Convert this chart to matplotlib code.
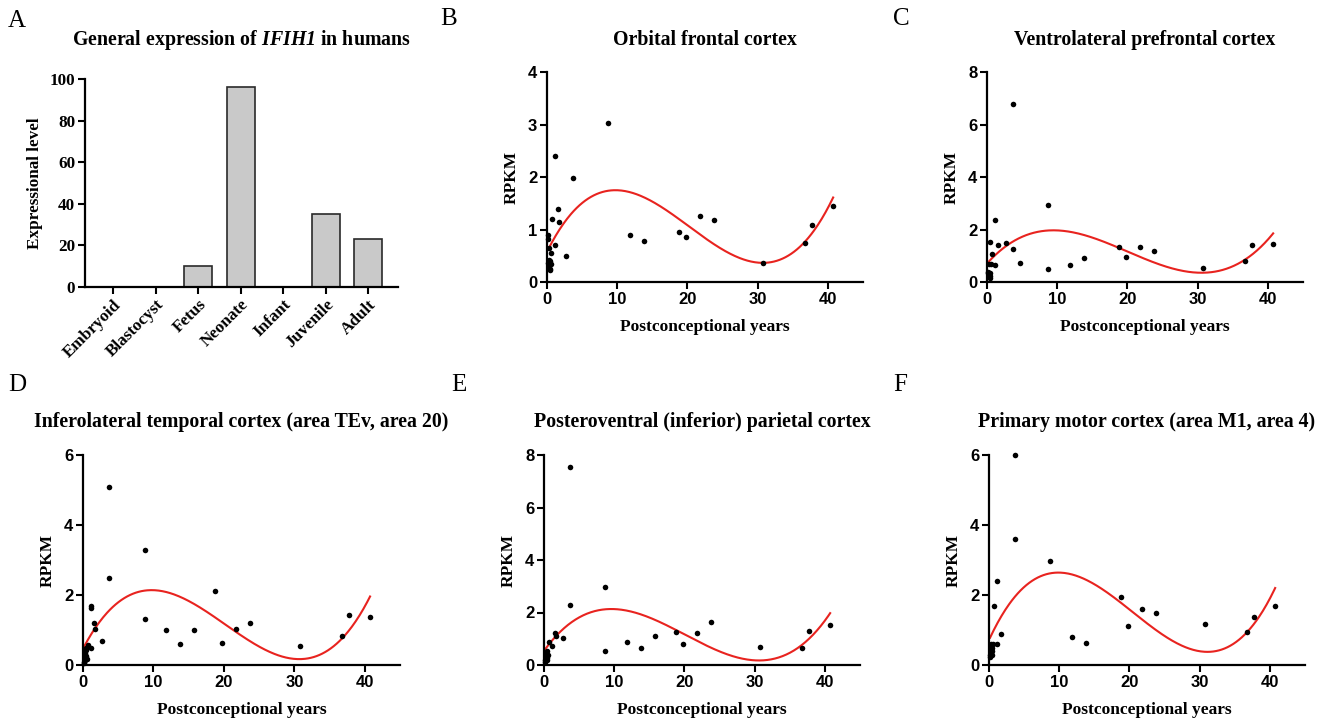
import numpy as np
import matplotlib
matplotlib.use('Agg')
import matplotlib.pyplot as plt

# panel A: general expression
stages = ['Embryoid', 'Blastocyst', 'Fetus', 'Neonate', 'Infant', 'Juvenile', 'Adult']
stage_level = [0, 0, 10, 96, 0, 35, 23]

# panels B-F: RPKM vs postconceptional years (BrainSpan ages)
b_years = [0.154, 0.154, 0.173, 0.231, 0.25, 0.308, 0.327, 0.365, 0.404, 0.46, 0.5, 0.5,
           0.71, 1.08, 1.08, 1.58, 1.75, 2.75, 3.75, 8.75, 11.75, 13.75, 18.75, 19.75,
           21.75, 23.75, 30.75, 36.75, 37.75, 40.75]
b_rpkm = [0.89, 0.36, 0.82, 0.65, 0.42, 0.30, 0.38, 0.25, 0.22, 0.40, 0.34, 0.55,
          1.20, 2.40, 0.71, 1.40, 1.15, 0.50, 1.99, 3.03, 0.89, 0.78, 0.96, 0.85,
          1.25, 1.19, 0.37, 0.74, 1.09, 1.45]

c_years = [0.154, 0.173, 0.231, 0.25, 0.308, 0.327, 0.365, 0.404, 0.46, 0.5, 0.365,
           0.71, 1.08, 1.08, 1.58, 2.75, 3.75, 3.75, 4.75, 8.75, 8.75, 11.75, 13.75,
           18.75, 19.75, 21.75, 23.75, 30.75, 36.75, 37.75, 40.75]
c_rpkm = [0.40, 0.33, 0.25, 0.20, 0.30, 0.68, 1.54, 0.35, 0.22, 0.68, 0.15,
          1.05, 2.37, 0.66, 1.40, 1.49, 6.80, 1.27, 0.74, 2.93, 0.51, 0.66, 0.91,
          1.34, 0.94, 1.33, 1.20, 0.52, 0.81, 1.42, 1.46]

d_years = [0.154, 0.173, 0.231, 0.25, 0.308, 0.327, 0.365, 0.404, 0.46, 0.5, 0.673,
           1.08, 1.08, 1.08, 1.58, 1.75, 2.75, 3.75, 3.75, 8.75, 8.75, 11.75, 13.75,
           15.75, 18.75, 19.75, 21.75, 23.75, 30.75, 36.75, 37.75, 40.75]
d_rpkm = [0.05, 0.10, 0.15, 0.22, 0.30, 0.35, 0.42, 0.48, 0.26, 0.18, 0.57,
          1.69, 1.62, 0.50, 1.19, 1.03, 0.69, 5.09, 2.49, 3.28, 1.31, 1.01, 0.60,
          1.01, 2.12, 0.63, 1.04, 1.19, 0.55, 0.82, 1.43, 1.38]

e_years = [0.154, 0.173, 0.231, 0.25, 0.308, 0.327, 0.365, 0.404, 0.46, 0.5, 0.673,
           1.08, 1.58, 1.75, 2.75, 3.75, 3.75, 8.75, 8.75, 11.75, 13.75, 15.75,
           18.75, 19.75, 21.75, 23.75, 30.75, 36.75, 37.75, 40.75]
e_rpkm = [0.10, 0.18, 0.25, 0.30, 0.35, 0.42, 0.55, 0.28, 0.20, 0.38, 0.88,
          0.72, 1.21, 1.10, 1.03, 7.53, 2.30, 2.97, 0.52, 0.89, 0.63, 1.12,
          1.27, 0.79, 1.22, 1.65, 0.69, 0.63, 1.31, 1.54]

f_years = [0.154, 0.173, 0.231, 0.25, 0.308, 0.327, 0.365, 0.404, 0.46, 0.5,
           0.71, 1.08, 1.08, 1.75, 3.75, 3.75, 8.75, 11.75, 13.75, 18.75, 19.75,
           21.75, 23.75, 30.75, 36.75, 37.75, 40.75]
f_rpkm = [0.22, 0.28, 0.35, 0.45, 0.60, 0.55, 0.40, 0.30, 0.50, 0.60,
          1.70, 2.41, 0.60, 0.90, 5.99, 3.61, 2.98, 0.80, 0.62, 1.95, 1.11,
          1.60, 1.48, 1.17, 0.95, 1.38, 1.70]

SERIF = 'Liberation Serif'
SANS = 'Liberation Sans'
W, H = 1330, 720

# only the gene name goes through mathtext: bold italic serif, digits included
plt.rcParams['mathtext.fontset'] = 'custom'
plt.rcParams['mathtext.rm'] = 'Liberation Serif:bold:italic'
plt.rcParams['mathtext.it'] = 'Liberation Serif:bold:italic'

fig = plt.figure(figsize=(W / 100, H / 100), dpi=100)


def px_axes(left, right, bottom, top):
    return fig.add_axes([left / W, (H - bottom) / H, (right - left) / W, (bottom - top) / H])


def style(ax, tick_font, size):
    for s in ['top', 'right']:
        ax.spines[s].set_visible(False)
    for s in ['left', 'bottom']:
        ax.spines[s].set_linewidth(1.6)
    ax.tick_params(direction='out', length=5, width=1.5, pad=2)
    for lab in ax.get_xticklabels() + ax.get_yticklabels():
        lab.set_fontfamily(tick_font)
        lab.set_fontweight('bold')
        lab.set_fontsize(size)


# ---- A: bar chart
ax = px_axes(85, 398, 287, 79)
ax.bar(range(len(stages)), stage_level, width=0.66, color='#c9c9c9',
       edgecolor='#2a2a2a', linewidth=1.2)
ax.set_xlim(-0.66, 6.7)
ax.set_ylim(0, 100)
ax.set_yticks(range(0, 101, 20))
ax.set_xticks(range(len(stages)))
ax.set_xticklabels(stages, rotation=45, ha='right', rotation_mode='anchor')
style(ax, SERIF, 12.3)
ax.set_ylabel('Expressional level', family=SERIF, weight='bold', fontsize=12.3)
ax.yaxis.set_label_coords(-50 / 313, 0.5)
ax.yaxis.label.set_va('center')
fig.text(241 / W, 1 - 40 / H, r'General expression of $\mathrm{IFIH1}$ in humans',
         family=SERIF, weight='bold', fontsize=14.3, ha='center', va='center')

# ---- B-F: scatter with cubic fit
panels = [
    ('B', 'Orbital frontal cortex', b_years, b_rpkm, 4, 1, (547, 863, 282, 72), (440, 19)),
    ('C', 'Ventrolateral prefrontal cortex', c_years, c_rpkm, 8, 2, (987, 1303, 282, 72), (893, 19)),
    ('D', 'Inferolateral temporal cortex (area TEv, area 20)', d_years, d_rpkm, 6, 2, (83, 400, 665, 455), (8, 385)),
    ('E', 'Posteroventral (inferior) parietal cortex', e_years, e_rpkm, 8, 2, (544, 860, 665, 455), (451, 385)),
    ('F', 'Primary motor cortex (area M1, area 4)', f_years, f_rpkm, 6, 2, (989, 1305, 665, 455), (893, 385)),
]

for letter, title, xs, ys, ymax, ystep, box, lpos in panels:
    l, r, b, t = box
    ax = px_axes(l, r, b, t)
    xs = np.array(xs)
    ys = np.array(ys)
    ax.scatter(xs, ys, s=16, color='black', zorder=3, clip_on=False, linewidths=0)
    coef = np.polyfit(xs, ys, 3)
    xf = np.linspace(xs.min(), xs.max(), 300)
    ax.plot(xf, np.polyval(coef, xf), color='#e8231f', lw=1.5, zorder=2)
    ax.set_xlim(0, 45)
    ax.set_ylim(0, ymax)
    ax.set_xticks(range(0, 41, 10))
    ax.set_yticks(np.arange(0, ymax + 0.1, ystep))
    style(ax, SANS, 12)
    ax.set_xlabel('Postconceptional years', family=SERIF, weight='bold', fontsize=12.5)
    ax.set_ylabel('RPKM', family=SERIF, weight='bold', fontsize=12.5)
    ax.xaxis.set_label_coords(0.5, -44.5 / (b - t))
    ax.xaxis.label.set_va('center')
    ax.yaxis.set_label_coords(-35.5 / (r - l), 0.5)
    ax.yaxis.label.set_va('center')
    ty = 40 if t < 100 else 422
    fig.text((l + r) / 2 / W, 1 - ty / H, title, family=SERIF, weight='bold',
             fontsize=14.3, ha='center', va='center')
    fig.text(lpos[0] / W, 1 - lpos[1] / H, letter, family=SERIF, fontsize=18,
             ha='left', va='center')

fig.text(8 / W, 1 - 21 / H, 'A', family=SERIF, fontsize=18, ha='left', va='center')

fig.savefig('out.png', dpi=100)
